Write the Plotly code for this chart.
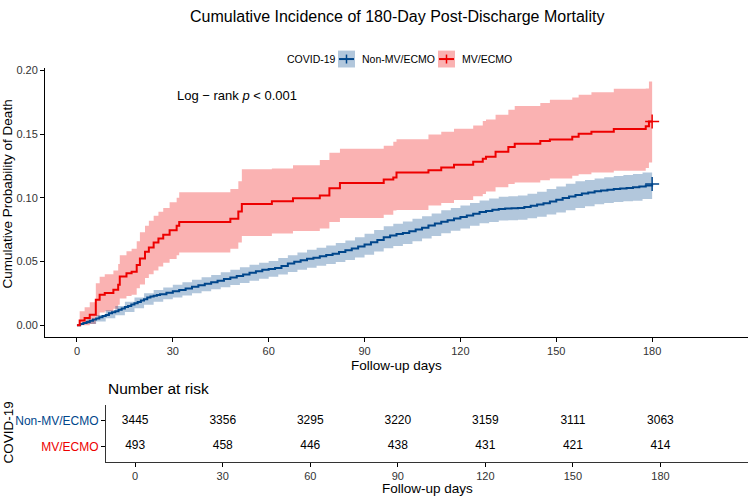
import plotly.graph_objects as go

W, H = 750, 497

# ---------------- data ----------------
red_days = [0, 0.85, 2.4, 4, 5.9, 7.1, 8.7, 11.4, 12.9, 13.4, 15.5, 17.1, 18.7, 19.7, 21.3, 22.5, 24, 25.5, 27, 29,
            31.2, 32, 48, 50.5, 51.6, 61, 67.6, 76, 79, 82.3, 96, 99, 100, 110, 114, 118, 124, 127, 128, 131,
            135, 137, 145, 148, 155, 157, 161, 168, 178, 179, 180]
red_cuminc = [0, 0.0036, 0.0057, 0.0083, 0.020, 0.0239, 0.0252, 0.0278, 0.0317, 0.0382, 0.0407, 0.042, 0.0473, 0.0524, 0.0576,
              0.061, 0.065, 0.068, 0.071, 0.0745, 0.078, 0.081, 0.0836, 0.0893, 0.0952, 0.0973, 0.0997, 0.1018, 0.1075, 0.1116,
              0.1145, 0.116, 0.120, 0.1217, 0.1238, 0.126, 0.1283, 0.1308, 0.1322, 0.1363, 0.140, 0.1425, 0.1446, 0.1459, 0.148,
              0.1503, 0.1519, 0.154, 0.1563, 0.160, 0.160]
red_upper = [0, 0.011, 0.014, 0.018, 0.033, 0.038, 0.040, 0.043, 0.048, 0.055, 0.058, 0.060, 0.066, 0.073, 0.078,
             0.082, 0.086, 0.089, 0.092, 0.0966, 0.100, 0.1044, 0.107, 0.113, 0.1225, 0.123, 0.1256, 0.1298, 0.1355, 0.1386,
             0.141, 0.144, 0.146, 0.1498, 0.1519, 0.1542, 0.1568, 0.1604, 0.1615, 0.1653, 0.1692, 0.1721, 0.1745, 0.177, 0.1789,
             0.1809, 0.183, 0.1856, 0.1858, 0.1914, 0.1914]
red_lower = [0, 0, 0, 0.001, 0.007, 0.010, 0.011, 0.013, 0.016, 0.021, 0.023, 0.024, 0.029, 0.032, 0.037,
             0.040, 0.043, 0.046, 0.049, 0.052, 0.055, 0.057, 0.060, 0.065, 0.070, 0.072, 0.074, 0.076, 0.081, 0.0841,
             0.0867, 0.0901, 0.0905, 0.094, 0.096, 0.0984, 0.1012, 0.103, 0.1049, 0.1083, 0.1108, 0.1121, 0.1139, 0.1153, 0.1174,
             0.1186, 0.120, 0.1213, 0.1235, 0.1277, 0.1277]

blue_days = [0, 1, 2, 3, 4, 5, 6, 7, 8, 9, 10, 11, 12, 13, 14, 15, 16, 17, 18, 19, 20, 21, 22, 23, 24, 25, 26,
             28, 30, 32, 34, 36, 38, 40, 42, 44, 46, 48, 50, 52, 54, 56, 58, 60,
             62, 64, 66, 68, 70, 72, 74, 76, 78, 80, 82, 84, 86, 88, 90, 92, 94, 96, 98, 100,
             102, 104, 106, 108, 110, 112, 114, 116, 118, 120, 122, 124, 126, 128, 130, 132, 134, 136, 138, 140,
             142, 144, 146, 148, 150, 152, 154, 156, 158, 160, 162, 164, 166, 168, 170, 172, 174, 176, 178, 180]
blue_cuminc = [0, .0009, .0018, .0026, .0035, .0044, .0053, .0062, .0072, .0081, .0093, .0101, .0110, .0122, .0131,
               .0142, .0151, .0163, .0172, .0183, .0194, .0203, .0218, .0226, .0232, .0238, .0244,
               .0255, .0267, .0276, .0288, .0301, .0314, .0325, .0337, .0349, .0362, .0374, .0386, .0398, .0411, .0424, .0435, .0441,
               .0449, .0465, .0484, .0499, .0510, .0521, .0530, .0541, .0551, .0562, .0574, .0588, .0603, .0618, .0634, .0651,
               .0670, .0690, .0705, .0716,
               .0725, .0738, .0751, .0766, .0782, .0798, .0812, .0824, .0837, .0849, .0862, .0875, .0888, .0897, .0906, .0913,
               .0916, .0918, .0921, .0929,
               .0938, .0948, .0958, .0971, .0986, .0999, .1011, .1023, .1034, .1043, .1051, .1058, .1064, .1070, .1074, .1078,
               .1083, .1090, .1098, .1108]

blue_band_days = [0, 3, 6, 9, 12, 15, 18, 21, 24, 27, 30, 33, 36, 39, 42, 45, 48, 51, 54, 57, 60,
                  63, 66, 69, 72, 75, 78, 81, 84, 87, 90, 93, 96, 99, 102, 105, 108, 111, 114, 117, 120,
                  123, 126, 129, 132, 135, 138, 141, 144, 147, 150, 153, 156, 159, 162, 165, 168, 171, 174, 177, 180]
blue_upper = [0, 0.0045, 0.0080, 0.0117, 0.0150, 0.0184, 0.0218, 0.0250, 0.0276, 0.0297, 0.0318, 0.0337, 0.0356,
              0.0376, 0.0395, 0.0415, 0.0435, 0.0455, 0.0475, 0.0490, 0.0505, 0.0527, 0.0550, 0.0571, 0.0592, 0.0608,
              0.0625, 0.0645, 0.0665, 0.0690, 0.0718, 0.0748, 0.0778, 0.0797, 0.0815, 0.0835, 0.0855, 0.0878, 0.0902,
              0.0921, 0.0940, 0.0960, 0.0979, 0.0994, 0.1008, 0.1013, 0.1018, 0.1033, 0.1048, 0.1069, 0.1090, 0.1110,
              0.1130, 0.1141, 0.1152, 0.1162, 0.1172, 0.1180, 0.1188, 0.1200, 0.1213]
blue_lower = [0, 0.0010, 0.0030, 0.0054, 0.0079, 0.0104, 0.0133, 0.0160, 0.0184, 0.0203, 0.0218, 0.0234, 0.0250,
              0.0266, 0.0282, 0.0298, 0.0315, 0.0332, 0.0350, 0.0365, 0.0380, 0.0399, 0.0418, 0.0435, 0.0452, 0.0466,
              0.0480, 0.0496, 0.0512, 0.0532, 0.0553, 0.0579, 0.0605, 0.0621, 0.0638, 0.0659, 0.0680, 0.0701, 0.0722,
              0.0741, 0.0760, 0.0780, 0.0800, 0.0811, 0.0822, 0.0825, 0.0828, 0.0840, 0.0852, 0.0869, 0.0886, 0.0903,
              0.0920, 0.0935, 0.0950, 0.0959, 0.0968, 0.0973, 0.0978, 0.0991, 0.1005]

risk_times = [0, 30, 60, 90, 120, 150, 180]
risk_nonmv = [3445, 3356, 3295, 3220, 3159, 3111, 3063]
risk_mv = [493, 458, 446, 438, 431, 421, 414]

groups = ["Non-MV/ECMO", "MV/ECMO"]
x_ticks = [0, 30, 60, 90, 120, 150, 180]
y_ticks = [0.00, 0.05, 0.10, 0.15, 0.20]

BLUE = "#00468B"
RED = "#ED0000"
BLUE_FILL = "rgba(0,70,139,0.3)"
RED_FILL = "rgba(237,0,0,0.3)"
FONT = "Liberation Sans, Arial, sans-serif"


def px(x):
    return x / W


def py(y):
    return 1 - y / H


fig = go.Figure()

# confidence bands
for d, lo, up, fillc in [(red_days, red_lower, red_upper, RED_FILL),
                         (blue_band_days, blue_lower, blue_upper, BLUE_FILL)]:
    fig.add_trace(go.Scatter(x=d, y=lo, mode="lines", line=dict(width=0, shape="hv"),
                             showlegend=False, hoverinfo="skip"))
    fig.add_trace(go.Scatter(x=d, y=up, mode="lines", line=dict(width=0, shape="hv"),
                             fill="tonexty", fillcolor=fillc, showlegend=False, hoverinfo="skip"))

# step curves
fig.add_trace(go.Scatter(x=blue_days, y=blue_cuminc, mode="lines",
                         line=dict(color=BLUE, width=2, shape="hv"), showlegend=False))
fig.add_trace(go.Scatter(x=red_days, y=red_cuminc, mode="lines",
                         line=dict(color=RED, width=2, shape="hv"), showlegend=False))
# censor marks at end
fig.add_trace(go.Scatter(x=[blue_days[-1]], y=[blue_cuminc[-1]], mode="markers",
                         marker=dict(symbol="cross-thin", size=10, line=dict(color=BLUE, width=1.5)),
                         showlegend=False))
fig.add_trace(go.Scatter(x=[red_days[-1]], y=[red_cuminc[-1]], mode="markers",
                         marker=dict(symbol="cross-thin", size=10, line=dict(color=RED, width=1.5)),
                         showlegend=False))

# risk table text
fig.add_trace(go.Scatter(x=risk_times, y=[2] * len(risk_times), mode="text",
                         text=[str(v) for v in risk_nonmv], textfont=dict(size=12, color="black", family=FONT),
                         xaxis="x2", yaxis="y2", showlegend=False))
fig.add_trace(go.Scatter(x=risk_times, y=[1] * len(risk_times), mode="text",
                         text=[str(v) for v in risk_mv], textfont=dict(size=12, color="black", family=FONT),
                         xaxis="x2", yaxis="y2", showlegend=False))

axis_common = dict(showline=True, linecolor="black", linewidth=1, ticks="outside", ticklen=4,
                   tickcolor="black", tickwidth=1, showgrid=False, zeroline=False,
                   tickfont=dict(size=11, color="#333333", family=FONT))

fig.update_layout(
    width=W, height=H, margin=dict(l=0, r=0, t=0, b=0),
    paper_bgcolor="white", plot_bgcolor="white",
    font=dict(family=FONT, color="black"),
    showlegend=False,
    xaxis=dict(domain=[px(45), px(748)], range=[-10, 210], tickvals=x_ticks, anchor="y", **axis_common),
    yaxis=dict(domain=[py(336), py(65)], range=[-0.0095, 0.2016], tickvals=y_ticks,
               tickformat=".2f", anchor="x", **axis_common),
    xaxis2=dict(domain=[px(106), px(748)], range=[-10, 210], tickvals=x_ticks, anchor="y2", **axis_common),
    yaxis2=dict(domain=[py(461.6), py(404.4)], range=[0.4, 2.6], tickvals=[2, 1],
                ticktext=[f"<span style='color:{BLUE}'>{groups[0]}</span>",
                          f"<span style='color:{RED}'>{groups[1]}</span>"],
                anchor="x2", **{**axis_common, "tickfont": dict(size=12, family=FONT)}),
)
fig.update_layout(xaxis2_linecolor="#333333", yaxis2_linecolor="#333333")

ann = []
ann.append(dict(text="Cumulative Incidence of 180-Day Post-Discharge Mortality", x=px(397), y=py(13),
                xref="paper", yref="paper", showarrow=False, font=dict(size=16, family=FONT),
                xanchor="center", yanchor="middle"))
ann.append(dict(text="Cumulative Probability of Death", x=px(7), y=py(192), xref="paper", yref="paper",
                showarrow=False, textangle=-90, font=dict(size=13.5, family=FONT), xanchor="center", yanchor="middle"))
ann.append(dict(text="Follow-up days", x=px(396), y=py(364), xref="paper", yref="paper",
                showarrow=False, font=dict(size=13.5, family=FONT), xanchor="center", yanchor="middle"))
ann.append(dict(text="Log − rank <i>p</i> &lt; 0.001", x=50, y=0.180, xref="x", yref="y",
                showarrow=False, font=dict(size=13, family=FONT), xanchor="center", yanchor="middle"))
ann.append(dict(text="Number at risk", x=px(106), y=py(388), xref="paper", yref="paper",
                showarrow=False, font=dict(size=15.5, family=FONT), xanchor="left", yanchor="middle"))
ann.append(dict(text="COVID-19", x=px(9), y=py(432), xref="paper", yref="paper", showarrow=False,
                textangle=-90, font=dict(size=13.5, family=FONT), xanchor="center", yanchor="middle"))
ann.append(dict(text="Follow-up days", x=px(427), y=py(488), xref="paper", yref="paper",
                showarrow=False, font=dict(size=13.5, family=FONT), xanchor="center", yanchor="middle"))
# legend
ann.append(dict(text="COVID-19", x=px(285), y=py(55.5), xref="paper", yref="paper", showarrow=False,
                font=dict(size=10.5, family=FONT), xanchor="left", yanchor="middle"))
ann.append(dict(text=groups[0], x=px(360), y=py(55.5), xref="paper", yref="paper", showarrow=False,
                font=dict(size=10.5, family=FONT), xanchor="left", yanchor="middle"))
ann.append(dict(text=groups[1], x=px(460), y=py(55.5), xref="paper", yref="paper", showarrow=False,
                font=dict(size=10.5, family=FONT), xanchor="left", yanchor="middle"))
fig.update_layout(annotations=ann)

shapes = []
for x0, fillc, col in [(338, BLUE_FILL, BLUE), (438, RED_FILL, RED)]:
    shapes.append(dict(type="rect", xref="paper", yref="paper", x0=px(x0), x1=px(x0 + 17),
                       y0=py(64), y1=py(47), fillcolor=fillc, line=dict(width=0)))
    shapes.append(dict(type="line", xref="paper", yref="paper", x0=px(x0 + 1), x1=px(x0 + 16),
                       y0=py(55.5), y1=py(55.5), line=dict(color=col, width=2)))
    shapes.append(dict(type="line", xref="paper", yref="paper", x0=px(x0 + 8.5), x1=px(x0 + 8.5),
                       y0=py(51), y1=py(60), line=dict(color=col, width=1.5)))
fig.update_layout(shapes=shapes)

fig.write_html("out.html")
